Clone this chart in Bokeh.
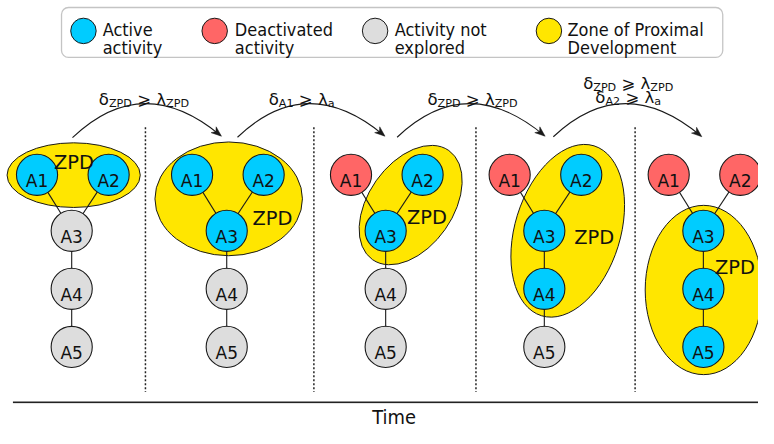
import math
from bokeh.plotting import figure
from bokeh.models import Range1d, BoxAnnotation, Title
from bokeh.core.properties import value
from bokeh.embed import file_html
from bokeh.resources import INLINE

# ---------------- data ----------------
node_names = ["A1", "A2", "A3", "A4", "A5"]
edges = [("A1", "A3"), ("A2", "A3"), ("A3", "A4"), ("A4", "A5")]
panel_states = [
    ["active", "active", "unexplored", "unexplored", "unexplored"],
    ["active", "active", "active", "unexplored", "unexplored"],
    ["deactivated", "active", "active", "unexplored", "unexplored"],
    ["deactivated", "active", "active", "active", "unexplored"],
    ["deactivated", "deactivated", "active", "active", "active"],
]
zpd_label = "ZPD"
# each transition: lines of (symbol, subscript, symbol, subscript)
transition_labels = [
    [("δ", "ZPD", "λ", "ZPD")],
    [("δ", "A1", "λ", "a")],
    [("δ", "ZPD", "λ", "ZPD")],
    [("δ", "ZPD", "λ", "ZPD"), ("δ", "A2", "λ", "a")],
]
relation = "⩾"
legend_states = ["active", "deactivated", "unexplored", "zpd"]
legend_labels = [["Active", "activity"], ["Deactivated", "activity"],
                 ["Activity not", "explored"], ["Zone of Proximal", "Development"]]
axis_label = "Time"

# ---------------- layout / style (reference pixel coordinates) ----------------
W, H = 774, 444
PW, PH = 758, 428
SX, SY = PW / W, PH / H
FS = (SX + SY) / 2
TIME_FONT = 20.5
FRAME_BOTTOM = 420.0            # reference y where the drawing area ends (time label below)
AXIS_PX = int(round(PH - FRAME_BOTTOM * SY))
time_label_left = 379.5
state_colors = {"active": "#00ccff", "deactivated": "#ff6666",
                "unexplored": "#dddddd", "zpd": "#ffe600"}
INK = "#1a1a1a"
panel_x = [72.7, 231.0, 393.3, 555.3, 717.7]
node_dx = {"A1": -35.4, "A2": 37.7, "A3": 0.0, "A4": 0.0, "A5": 0.0}
node_y = {"A1": 181.7, "A2": 181.7, "A3": 240.0, "A4": 300.5, "A5": 361.0}
node_r = 21
# ZPD ellipses: cx, cy, semi-axis (x before rotation), semi-axis (y), angle(deg, ccw)
zpd_ellipses = [
    (74.7, 182.0, 68.0, 33.7, 0.0),
    (233.0, 206.7, 75.3, 59.3, 0.0),
    (418.8, 213.2, 68.0, 44.0, 55.0),
    (579.2, 240.0, 90.8, 55.0, 72.8),
    (718.0, 301.7, 59.7, 88.3, 0.0),
]
zpd_text = [(75.0, 169.0), (277.7, 227.7), (435.5, 226.0), (606.2, 247.3), (750.0, 278.3)]
separators_x = [148.0, 320.0, 485.5, 648.0]
sep_y = (132, 408)
axis_line_y = 418.8
arcs = [(73.5, 143.0, 224.5, 140.5), (242.0, 142.5, 391.5, 140.5),
        (405.0, 142.5, 555.0, 140.5), (564.5, 142.0, 715.0, 141.0)]
arc_peak_y = 107.5
label_cx = [146.5, 307.5, 482.0, 641.0]
label_baselines = [[103.5], [103.5], [103.5], [87.0, 101.5]]
legend_x = [84.7, 218.7, 382.5, 560.0]
legend_text_x = [104.3, 239.3, 402.5, 579.0]
legend_y = 31.7
legend_lines_y = [30.3, 48.7]

def Y(v):
    return H - v

def px(size):
    return "%.2fpx" % (size * FS)

# DejaVu Sans advance widths (em)
ADV = {'δ': 0.612, 'λ': 0.592, '⩾': 0.838, ' ': 0.318, 'Z': 0.685, 'P': 0.603,
       'D': 0.770, 'A': 0.684, '1': 0.636, '2': 0.636, 'a': 0.613}

def tw(s, size):
    # width in data (reference) units of a run drawn at size*FS px
    return sum(ADV.get(c, 0.6) for c in s) * size * FS / SX

p = figure(width=PW, height=PH, output_backend="svg",
           toolbar_location=None, x_axis_location=None, y_axis_location=None,
           x_range=Range1d(0, W), y_range=Range1d(Y(FRAME_BOTTOM), H),
           min_border=0, min_border_bottom=AXIS_PX,
           outline_line_color=None, background_fill_color="white")
p.grid.visible = False

FONT = value("DejaVu Sans")
FONT_C = value("DejaVu Sans Condensed")

# time label below the drawing
p.add_layout(Title(text=axis_label, align="left", offset=time_label_left * SX, standoff=0,
                   text_font="DejaVu Sans Condensed", text_font_size=px(TIME_FONT),
                   text_font_style="normal", text_color="#111111"), "below")

# legend box
p.add_layout(BoxAnnotation(left=62.3, right=737.5, top=Y(7.3), bottom=Y(59.3),
                           fill_color="white", fill_alpha=1.0, line_color="#3a3a3a",
                           line_width=1.3, border_radius=7, level="underlay"))
p.circle(x=legend_x, y=[Y(legend_y)] * 4, radius=13,
         fill_color=[state_colors[s] for s in legend_states], line_color=INK, line_width=1)
lt_x, lt_y, lt_t = [], [], []
for i, lines in enumerate(legend_labels):
    for j, t in enumerate(lines):
        lt_x.append(legend_text_x[i]); lt_y.append(Y(legend_lines_y[j])); lt_t.append(t)
p.text(x=lt_x, y=lt_y, text=lt_t, text_font=FONT_C, text_font_size=px(18.5),
       text_align="left", text_baseline="alphabetic", text_color="#111111")

# separators and time line
p.segment(x0=separators_x, y0=[Y(sep_y[0])] * 4, x1=separators_x, y1=[Y(sep_y[1])] * 4,
          line_color="#222222", line_width=1.5, line_dash="2 2")
p.segment(x0=[12.7], y0=[Y(axis_line_y)], x1=[W], y1=[Y(axis_line_y)],
          line_color="#222222", line_width=1.6)

# ZPD ellipses
p.ellipse(x=[e[0] for e in zpd_ellipses], y=[Y(e[1]) for e in zpd_ellipses],
          width=[2 * e[2] for e in zpd_ellipses], height=[2 * e[3] for e in zpd_ellipses],
          angle=[e[4] for e in zpd_ellipses], angle_units="deg",
          fill_color=state_colors["zpd"], line_color=INK, line_width=1)

# edges
ex0, ey0, ex1, ey1 = [], [], [], []
for pxc in panel_x:
    for a, b in edges:
        ex0.append(pxc + node_dx[a]); ey0.append(Y(node_y[a]))
        ex1.append(pxc + node_dx[b]); ey1.append(Y(node_y[b]))
p.segment(x0=ex0, y0=ey0, x1=ex1, y1=ey1, line_color=INK, line_width=1.1)

# nodes
nx, ny, nc, nt = [], [], [], []
for pxc, states in zip(panel_x, panel_states):
    for name, st in zip(node_names, states):
        nx.append(pxc + node_dx[name]); ny.append(Y(node_y[name]))
        nc.append(state_colors[st]); nt.append(name)
p.circle(x=nx, y=ny, radius=node_r, fill_color=nc, line_color=INK, line_width=1.1)
p.text(x=nx, y=[v - 6.4 for v in ny], text=nt, text_font=FONT, text_font_size=px(17.5),
       text_align="center", text_baseline="alphabetic", text_color="#111111")

# ZPD labels
p.text(x=[t[0] for t in zpd_text], y=[Y(t[1]) for t in zpd_text], text=[zpd_label] * 5,
       text_font=FONT, text_font_size=px(20), text_align="center",
       text_baseline="alphabetic", text_color="#111111")

# arcs with arrowheads
qx0, qy0, qx1, qy1, qcx, qcy = [], [], [], [], [], []
hxs, hys = [], []
for (x0, y0, x1, y1) in arcs:
    cx = (x0 + x1) / 2 - 4
    cy = 2 * arc_peak_y - (y0 + y1) / 2
    qx0.append(x0); qy0.append(Y(y0)); qx1.append(x1); qy1.append(Y(y1))
    qcx.append(cx); qcy.append(Y(cy))
    dx, dy = x1 - cx, y1 - cy
    n = math.hypot(dx, dy); dx, dy = dx / n, dy / n
    L, w, notch = 10.5, 4.0, 3.0
    tipx, tipy = x1 + dx * 1.5, y1 + dy * 1.5
    bx, by = tipx - dx * L, tipy - dy * L
    nxp, nyp = -dy, dx
    pts = [(tipx, tipy), (bx + nxp * w, by + nyp * w),
           (tipx - dx * (L - notch), tipy - dy * (L - notch)), (bx - nxp * w, by - nyp * w)]
    hxs.append([q[0] for q in pts]); hys.append([Y(q[1]) for q in pts])
p.quadratic(x0=qx0, y0=qy0, x1=qx1, y1=qy1, cx=qcx, cy=qcy, line_color=INK, line_width=1.1)
p.patches(xs=hxs, ys=hys, fill_color=INK, line_color=INK, line_width=0.5)

# transition labels with subscripts
MAIN, SUB, SUBDROP = 17.0, 11.5, 3.5
mx, my, mt, sx, sy, st = [], [], [], [], [], []
for cx, lines, bases in zip(label_cx, transition_labels, label_baselines):
    for (s1, b1, s2, b2), base in zip(lines, bases):
        total = (tw(s1, MAIN) + tw(b1, SUB) + 2 * tw(" ", MAIN) + tw(relation, MAIN)
                 + tw(s2, MAIN) + tw(b2, SUB))
        x = cx - total / 2
        mx.append(x); my.append(Y(base)); mt.append(s1); x += tw(s1, MAIN)
        sx.append(x); sy.append(Y(base + SUBDROP)); st.append(b1); x += tw(b1, SUB)
        x += tw(" ", MAIN)
        mx.append(x); my.append(Y(base)); mt.append(relation); x += tw(relation, MAIN)
        x += tw(" ", MAIN)
        mx.append(x); my.append(Y(base)); mt.append(s2); x += tw(s2, MAIN)
        sx.append(x); sy.append(Y(base + SUBDROP)); st.append(b2)
p.text(x=mx, y=my, text=mt, text_font=FONT, text_font_size=px(MAIN), text_align="left",
       text_baseline="alphabetic", text_color="#111111")
p.text(x=sx, y=sy, text=st, text_font=FONT, text_font_size=px(SUB), text_align="left",
       text_baseline="alphabetic", text_color="#111111")

open("out.html", "w").write(file_html(p, INLINE))
